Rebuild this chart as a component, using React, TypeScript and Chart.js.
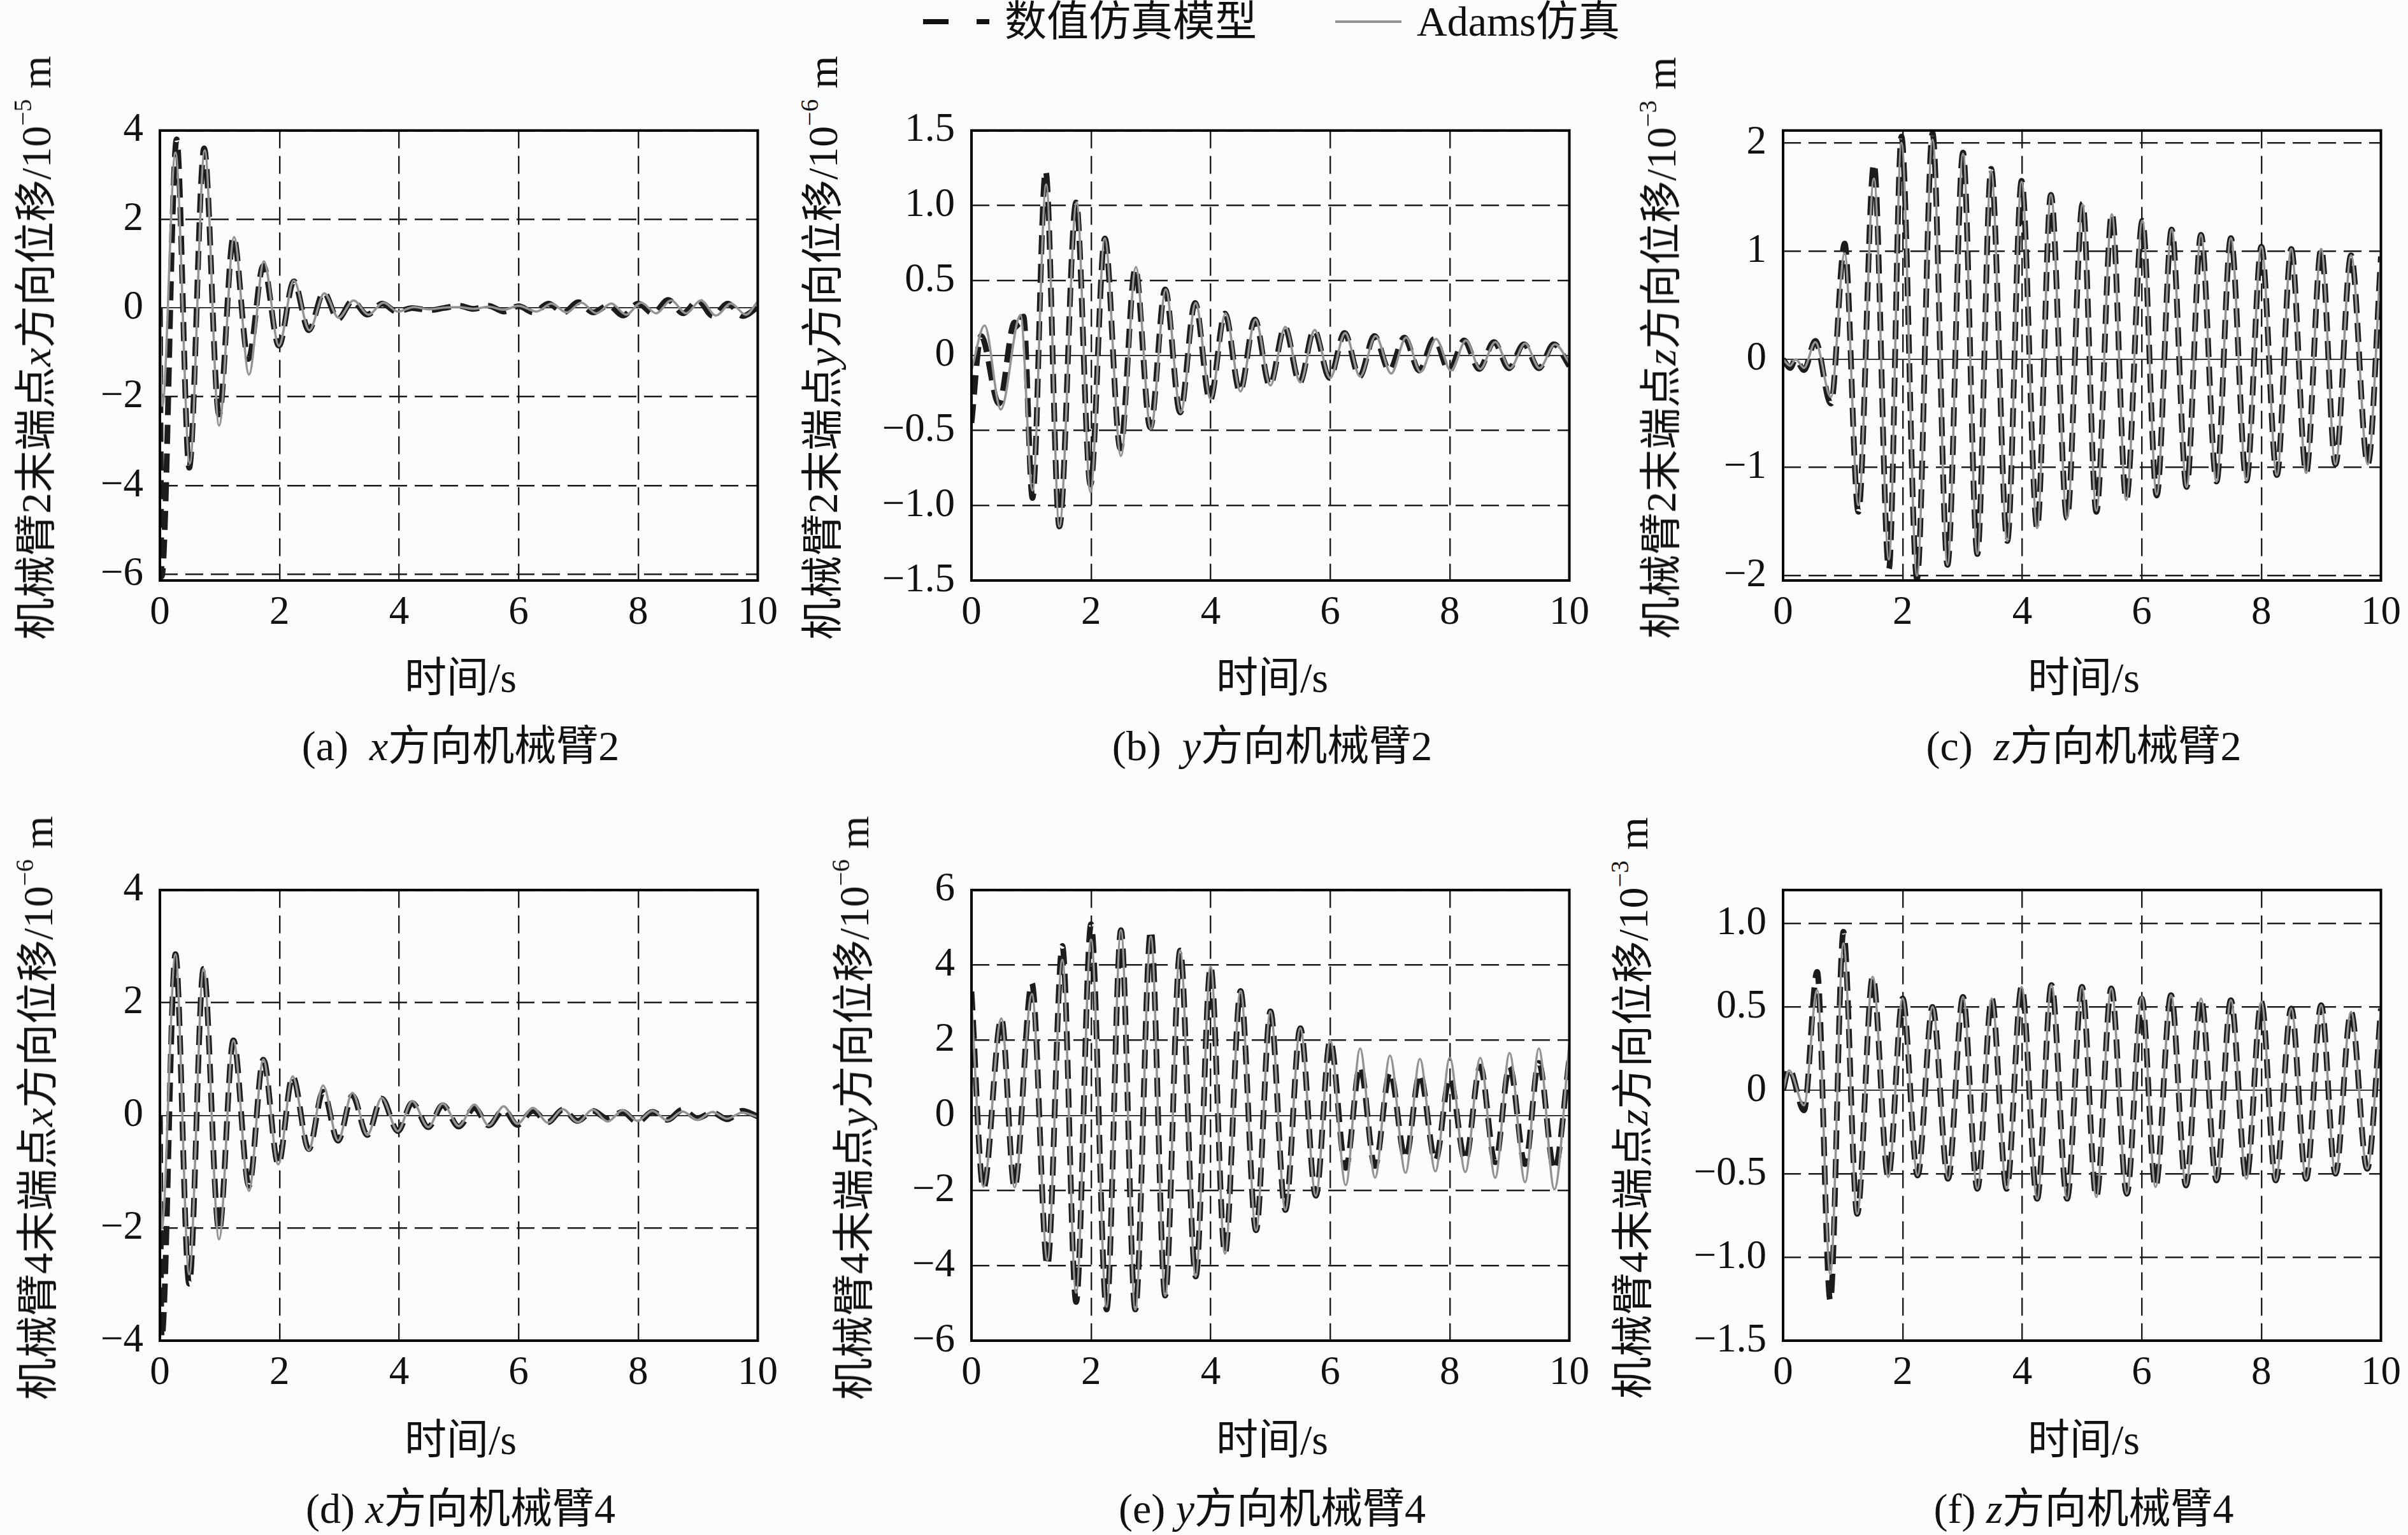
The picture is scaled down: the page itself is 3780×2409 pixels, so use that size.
import React, { useEffect, useRef } from "react";
import { Chart, registerables } from "chart.js";
Chart.register(...registerables);

// ---------- shared axis data ----------
const xTicks = [0, 2, 4, 6, 8, 10];
const xTickLabels = ["0", "2", "4", "6", "8", "10"];
const legendNum = "数值仿真模型";
const legendAdams = "Adams仿真";
const xTitle = "时间/s";

// ---------- (a) x方向 机械臂2 ----------
const tA_num = [0, 0.03, 0.28, 0.49, 0.74, 0.99, 1.23, 1.48, 1.73, 1.99, 2.24, 2.49, 2.74, 2.98, 3.22, 3.47, 3.72, 3.96, 4.22, 4.5, 4.75, 5.0, 5.25, 5.5, 5.75, 6.0, 6.25, 6.5, 6.75, 7.0, 7.25, 7.5, 7.75, 8.0, 8.25, 8.5, 8.75, 9.0, 9.25, 9.5, 9.75, 10];
const vA_num = [0, -6.05, 3.8, -3.6, 3.6, -2.4, 1.6, -1.15, 0.95, -0.85, 0.6, -0.5, 0.35, -0.25, 0.16, -0.15, 0.1, -0.08, 0.0, -0.05, 0.0, 0.05, -0.02, 0.05, -0.08, 0.04, -0.1, 0.1, -0.1, 0.13, -0.1, 0.06, -0.17, 0.1, -0.12, 0.18, -0.12, 0.17, -0.18, 0.1, -0.18, 0.02];
const tA_ad = [0, 0.04, 0.26, 0.5, 0.75, 0.99, 1.24, 1.49, 1.74, 1.99, 2.24, 2.5, 2.75, 2.99, 3.24, 3.49, 3.74, 3.98, 4.25, 4.5, 4.75, 5.0, 5.25, 5.5, 5.75, 6.0, 6.3, 6.55, 6.8, 7.05, 7.3, 7.55, 7.8, 8.05, 8.3, 8.55, 8.8, 9.05, 9.3, 9.55, 9.8, 10];
const vA_ad = [0, -2.2, 3.5, -3.5, 3.55, -2.65, 1.6, -1.5, 1.05, -0.85, 0.62, -0.5, 0.33, -0.22, 0.17, -0.15, 0.12, -0.08, 0.02, -0.03, 0.01, 0.02, -0.02, 0.03, -0.04, 0.05, -0.08, 0.1, -0.1, 0.12, -0.12, 0.1, -0.15, 0.12, -0.12, 0.17, -0.12, 0.17, -0.17, 0.1, -0.15, 0.15];
const yTicksA = [-6, -4, -2, 0, 2, 4];
const yLabelsA = ["−6", "−4", "−2", "0", "2", "4"];

// ---------- (b) y方向 机械臂2 ----------
const tB_num = [0, 0.16, 0.46, 0.72, 0.8, 0.87, 1.02, 1.24, 1.47, 1.75, 1.99, 2.23, 2.49, 2.74, 2.99, 3.24, 3.49, 3.74, 3.99, 4.24, 4.49, 4.74, 4.99, 5.24, 5.49, 5.73, 5.99, 6.24, 6.49, 6.74, 6.99, 7.24, 7.49, 7.74, 7.99, 8.24, 8.49, 8.74, 8.99, 9.24, 9.49, 9.74, 10];
const vB_num = [-0.45, 0.13, -0.32, 0.22, 0.18, 0.26, -0.95, 1.23, -1.14, 1.02, -0.86, 0.78, -0.62, 0.58, -0.48, 0.44, -0.38, 0.35, -0.3, 0.28, -0.24, 0.24, -0.2, 0.19, -0.18, 0.17, -0.15, 0.15, -0.14, 0.13, -0.1, 0.12, -0.1, 0.11, -0.1, 0.1, -0.09, 0.09, -0.085, 0.075, -0.085, 0.075, -0.07];
const tB_ad = [0, 0.22, 0.49, 0.82, 1.02, 1.25, 1.47, 1.76, 1.99, 2.23, 2.5, 2.75, 3.0, 3.25, 3.5, 3.75, 4.0, 4.25, 4.5, 4.75, 5.0, 5.25, 5.5, 5.74, 6.0, 6.25, 6.5, 6.76, 7.02, 7.27, 7.51, 7.77, 8.02, 8.27, 8.51, 8.76, 9.01, 9.26, 9.5, 9.76, 10];
const vB_ad = [-0.1, 0.2, -0.36, 0.27, -0.9, 1.14, -1.14, 1.02, -0.91, 0.78, -0.67, 0.59, -0.49, 0.44, -0.38, 0.35, -0.29, 0.28, -0.24, 0.24, -0.2, 0.19, -0.18, 0.17, -0.15, 0.15, -0.14, 0.13, -0.12, 0.12, -0.11, 0.11, -0.1, 0.1, -0.09, 0.09, -0.085, 0.08, -0.085, 0.075, -0.05];
const yTicksB = [-1.5, -1, -0.5, 0, 0.5, 1, 1.5];
const yLabelsB = ["−1.5", "−1.0", "−0.5", "0", "0.5", "1.0", "1.5"];

// ---------- (c) z方向 机械臂2 ----------
const tC = [0, 0.12, 0.21, 0.35, 0.54, 0.8, 1.03, 1.26, 1.52, 1.77, 1.98, 2.24, 2.5, 2.75, 3.01, 3.25, 3.48, 3.75, 3.99, 4.25, 4.48, 4.75, 5.01, 5.24, 5.5, 5.74, 6.01, 6.25, 6.5, 6.75, 6.99, 7.25, 7.49, 7.75, 8.0, 8.26, 8.5, 8.75, 9.0, 9.24, 9.5, 9.78, 10];
const vC_num = [0, -0.08, 0.0, -0.1, 0.17, -0.41, 1.07, -1.41, 1.81, -1.94, 2.06, -2.03, 2.09, -1.9, 1.91, -1.8, 1.76, -1.68, 1.65, -1.56, 1.52, -1.47, 1.44, -1.41, 1.35, -1.3, 1.28, -1.26, 1.2, -1.18, 1.15, -1.13, 1.12, -1.12, 1.04, -1.07, 1.02, -1.05, 1.02, -0.97, 0.96, -0.97, 0.95];
const vC_ad = [0, -0.06, 0.0, -0.08, 0.16, -0.35, 0.98, -1.35, 1.67, -1.85, 2.0, -2.0, 2.03, -1.9, 1.9, -1.8, 1.74, -1.68, 1.64, -1.56, 1.52, -1.47, 1.43, -1.4, 1.34, -1.3, 1.28, -1.25, 1.2, -1.18, 1.15, -1.13, 1.12, -1.12, 1.04, -1.07, 1.02, -1.05, 1.02, -0.97, 0.96, -0.97, 0.95];
const yTicksC = [-2, -1, 0, 1, 2];
const yLabelsC = ["−2", "−1", "0", "1", "2"];

// ---------- (d) x方向 机械臂4 ----------
const tD = [0, 0.03, 0.26, 0.49, 0.73, 0.99, 1.23, 1.49, 1.73, 1.98, 2.22, 2.49, 2.73, 2.98, 3.22, 3.47, 3.71, 3.98, 4.22, 4.49, 4.73, 5.0, 5.26, 5.5, 5.75, 5.98, 6.24, 6.49, 6.74, 6.99, 7.24, 7.49, 7.74, 7.99, 8.24, 8.49, 8.74, 8.99, 9.24, 9.49, 9.74, 10];
const vD_num = [0, -3.95, 2.86, -2.99, 2.6, -2.05, 1.33, -1.25, 0.99, -0.87, 0.69, -0.6, 0.42, -0.45, 0.35, -0.35, 0.3, -0.28, 0.22, -0.21, 0.18, -0.2, 0.13, -0.18, 0.1, -0.17, 0.08, -0.12, 0.1, -0.1, 0.08, -0.06, 0.06, -0.12, 0.06, -0.08, 0.1, -0.05, 0.05, -0.07, 0.08, -0.02];
const vD_ad = [0, -2.0, 2.86, -2.82, 2.6, -2.2, 1.33, -1.34, 0.99, -0.87, 0.69, -0.62, 0.53, -0.45, 0.4, -0.35, 0.31, -0.28, 0.25, -0.21, 0.21, -0.19, 0.19, -0.18, 0.16, -0.15, 0.13, -0.13, 0.11, -0.12, 0.1, -0.11, 0.09, -0.1, 0.08, -0.09, 0.07, -0.08, 0.06, -0.06, 0.05, -0.03];
const yTicksD = [-4, -2, 0, 2, 4];
const yLabelsD = ["−4", "−2", "0", "2", "4"];

// ---------- (e) y方向 机械臂4 ----------
const tE = [0, 0.2, 0.5, 0.72, 1.01, 1.27, 1.52, 1.75, 2.0, 2.26, 2.5, 2.74, 3.0, 3.24, 3.49, 3.75, 4.0, 4.24, 4.5, 4.76, 5.0, 5.25, 5.5, 5.76, 6.0, 6.26, 6.5, 6.75, 7.0, 7.26, 7.5, 7.76, 8.0, 8.26, 8.51, 8.76, 9.0, 9.26, 9.49, 9.75, 10];
const vE_num = [3.3, -1.95, 2.58, -1.92, 3.52, -4.0, 4.51, -4.97, 5.09, -5.17, 4.93, -5.17, 4.93, -4.8, 4.39, -4.29, 3.96, -3.68, 3.31, -3.06, 2.77, -2.52, 2.32, -2.14, 1.99, -1.4, 1.3, -1.35, 1.15, -1.15, 1.1, -1.2, 1.0, -1.2, 1.3, -1.25, 1.3, -1.3, 1.4, -1.45, 1.5];
const vE_ad = [3.0, -1.9, 2.58, -1.92, 3.23, -3.85, 4.14, -4.72, 4.68, -5.1, 4.93, -5.17, 4.76, -4.8, 4.39, -4.29, 3.96, -3.68, 3.31, -3.06, 2.77, -2.52, 2.32, -2.14, 1.99, -1.86, 1.78, -1.66, 1.59, -1.53, 1.5, -1.49, 1.53, -1.51, 1.53, -1.66, 1.66, -1.78, 1.78, -1.97, 1.9];
const yTicksE = [-6, -4, -2, 0, 2, 4, 6];
const yLabelsE = ["−6", "−4", "−2", "0", "2", "4", "6"];

// ---------- (f) z方向 机械臂4 ----------
const tF = [0, 0.1, 0.35, 0.57, 0.79, 1.01, 1.24, 1.5, 1.76, 2.0, 2.25, 2.5, 2.76, 3.01, 3.25, 3.49, 3.74, 3.99, 4.25, 4.49, 4.75, 5.0, 5.24, 5.49, 5.75, 6.0, 6.23, 6.49, 6.74, 6.99, 7.25, 7.49, 7.75, 8.0, 8.24, 8.5, 8.75, 9.0, 9.24, 9.5, 9.77, 10];
const vF_num = [0, 0.13, -0.12, 0.71, -1.26, 0.95, -0.74, 0.68, -0.52, 0.55, -0.51, 0.5, -0.53, 0.56, -0.59, 0.55, -0.59, 0.62, -0.65, 0.63, -0.65, 0.62, -0.64, 0.61, -0.62, 0.55, -0.58, 0.57, -0.57, 0.55, -0.54, 0.54, -0.53, 0.53, -0.54, 0.49, -0.53, 0.51, -0.5, 0.47, -0.47, 0.49];
const vF_ad = [0, 0.12, -0.09, 0.6, -1.1, 0.88, -0.74, 0.68, -0.52, 0.55, -0.51, 0.5, -0.53, 0.56, -0.59, 0.55, -0.59, 0.62, -0.65, 0.63, -0.65, 0.62, -0.64, 0.61, -0.62, 0.56, -0.58, 0.57, -0.57, 0.55, -0.54, 0.54, -0.53, 0.53, -0.54, 0.49, -0.53, 0.51, -0.5, 0.47, -0.47, 0.49];
const yTicksF = [-1.5, -1, -0.5, 0, 0.5, 1];
const yLabelsF = ["−1.5", "−1.0", "−0.5", "0", "0.5", "1.0"];

// ---------- layout / style ----------
const SERIF = '"Liberation Serif", "Times New Roman", "Noto Sans CJK SC", serif';
const DARK = "#1c1c1c";
const GRAY = "#939393";
const Y_AXIS_W = 190;
const X_AXIS_H = 100;
const PAD_TOP = 40;
const PAD_RIGHT = 40;
const PLOT_W = 944;

type PanelCfg = {
  tNum: number[]; vNum: number[]; tAd: number[]; vAd: number[];
  yTicks: number[]; yLabels: string[]; yMin: number; yMax: number;
  left: number; top: number; h: number;
  titleX: number; arm: string; dir: string; exp: string;
  tag: string; capSep: string;
};

const ROW1_T = 181, ROW1_H = 730, ROW2_T = 1373, ROW2_H = 731;

const panels: PanelCfg[] = [
  { tNum: tA_num, vNum: vA_num, tAd: tA_ad, vAd: vA_ad, yTicks: yTicksA, yLabels: yLabelsA, yMin: -6.14, yMax: 4,
    left: 251, top: ROW1_T, h: ROW1_H, titleX: 57, arm: "2", dir: "x", exp: "−5", tag: "(a)", capSep: "  " },
  { tNum: tB_num, vNum: vB_num, tAd: tB_ad, vAd: vB_ad, yTicks: yTicksB, yLabels: yLabelsB, yMin: -1.5, yMax: 1.5,
    left: 1525, top: ROW1_T, h: ROW1_H, titleX: 1292, arm: "2", dir: "y", exp: "−6", tag: "(b)", capSep: "  " },
  { tNum: tC, vNum: vC_num, tAd: tC, vAd: vC_ad, yTicks: yTicksC, yLabels: yLabelsC, yMin: -2.045, yMax: 2.115,
    left: 2799, top: ROW1_T, h: ROW1_H, titleX: 2608, arm: "2", dir: "z", exp: "−3", tag: "(c)", capSep: "  " },
  { tNum: tD, vNum: vD_num, tAd: tD, vAd: vD_ad, yTicks: yTicksD, yLabels: yLabelsD, yMin: -4, yMax: 4,
    left: 251, top: ROW2_T, h: ROW2_H, titleX: 60, arm: "4", dir: "x", exp: "−6", tag: "(d)", capSep: " " },
  { tNum: tE, vNum: vE_num, tAd: tE, vAd: vE_ad, yTicks: yTicksE, yLabels: yLabelsE, yMin: -6, yMax: 6,
    left: 1525, top: ROW2_T, h: ROW2_H, titleX: 1341, arm: "4", dir: "y", exp: "−6", tag: "(e)", capSep: " " },
  { tNum: tF, vNum: vF_num, tAd: tF, vAd: vF_ad, yTicks: yTicksF, yLabels: yLabelsF, yMin: -1.5, yMax: 1.2,
    left: 2799, top: ROW2_T, h: ROW2_H, titleX: 2564, arm: "4", dir: "z", exp: "−3", tag: "(f)", capSep: " " },
];

const framePlugin = {
  id: "frame",
  afterDatasetsDraw(chart: any) {
    const { ctx, chartArea: a } = chart;
    ctx.save();
    ctx.strokeStyle = "#000";
    ctx.lineWidth = 4;
    ctx.strokeRect(a.left, a.top, a.right - a.left, a.bottom - a.top);
    ctx.restore();
  },
};

function PanelChart({ cfg }: { cfg: PanelCfg }) {
  const ref = useRef<HTMLCanvasElement | null>(null);
  const cw = Y_AXIS_W + PLOT_W + PAD_RIGHT;
  const ch = PAD_TOP + cfg.h + X_AXIS_H;
  useEffect(() => {
    if (!ref.current) return;
    const tickFont = { family: SERIF, size: 63 };
    const chart = new Chart(ref.current, {
      type: "line",
      data: {
        datasets: [
          {
            label: legendNum,
            data: cfg.tNum.map((t, i) => ({ x: t, y: cfg.vNum[i] })),
            borderColor: DARK,
            borderWidth: 9,
            borderDash: [30, 15],
            pointRadius: 0,
            cubicInterpolationMode: "monotone",
            fill: false,
            order: 1,
          },
          {
            label: legendAdams,
            data: cfg.tAd.map((t, i) => ({ x: t, y: cfg.vAd[i] })),
            borderColor: GRAY,
            borderWidth: 3.6,
            pointRadius: 0,
            cubicInterpolationMode: "monotone",
            fill: false,
            order: 0,
          },
        ],
      },
      options: {
        animation: false,
        responsive: false,
        devicePixelRatio: 1,
        layout: { padding: { top: PAD_TOP, right: PAD_RIGHT, left: 0, bottom: 0 } },
        plugins: { legend: { display: false }, tooltip: { enabled: false } },
        scales: {
          x: {
            type: "linear",
            min: 0,
            max: 10,
            afterBuildTicks: (s: any) => { s.ticks = xTicks.map((v) => ({ value: v })); },
            afterFit: (s: any) => { s.height = X_AXIS_H; },
            ticks: {
              autoSkip: false,
              maxRotation: 0,
              padding: 14,
              color: "#111",
              font: tickFont,
              callback: (_v: any, i: number) => xTickLabels[i],
            },
            grid: { color: "#1a1a1a", lineWidth: 2.4, drawTicks: false },
            border: { display: false, dash: [28, 12] },
          },
          y: {
            type: "linear",
            min: cfg.yMin,
            max: cfg.yMax,
            afterBuildTicks: (s: any) => { s.ticks = cfg.yTicks.map((v) => ({ value: v })); },
            afterFit: (s: any) => { s.width = Y_AXIS_W; },
            ticks: {
              autoSkip: false,
              padding: 26,
              color: "#111",
              font: tickFont,
              callback: (_v: any, i: number) => cfg.yLabels[i],
            },
            grid: {
              color: "#1a1a1a",
              lineWidth: (c: any) => (c.tick && c.tick.value === 0 ? 1.8 : 2.4),
              drawTicks: false,
            },
            border: {
              display: false,
              dash: (c: any) => (c.tick && c.tick.value === 0 ? [] : [28, 12]),
            },
          },
        },
      } as any,
      plugins: [framePlugin],
    });
    return () => chart.destroy();
  }, [cfg]);
  return (
    <canvas
      ref={ref}
      width={cw}
      height={ch}
      style={{
        position: "absolute",
        left: cfg.left - Y_AXIS_W,
        top: cfg.top - PAD_TOP,
        width: cw,
        height: ch,
      }}
    />
  );
}

const textBase: React.CSSProperties = {
  position: "absolute",
  fontFamily: SERIF,
  fontSize: 66,
  color: "#111",
  whiteSpace: "pre",
  lineHeight: 1,
};

function PanelTexts({ cfg, xTitleY, capY }: { cfg: PanelCfg; xTitleY: number; capY: number }) {
  const cx = cfg.left + PLOT_W / 2;
  const cy = cfg.top + cfg.h / 2;
  return (
    <>
      <div
        style={{
          ...textBase,
          left: cfg.titleX,
          top: cy,
          transform: "translate(-50%, -50%) rotate(-90deg)",
        }}
      >
        {"机械臂" + cfg.arm + "末端点"}
        <i>{cfg.dir}</i>
        {"方向位移/10"}
        <span style={{ fontSize: "0.6em", position: "relative", top: "-0.75em" }}>{cfg.exp}</span>
        {" m"}
      </div>
      <div style={{ ...textBase, left: cx, top: xTitleY, transform: "translate(-50%, -50%)" }}>{xTitle}</div>
      <div style={{ ...textBase, left: cx, top: capY, transform: "translate(-50%, -50%)" }}>
        {cfg.tag + cfg.capSep}
        <i>{cfg.dir}</i>
        {"方向机械臂" + cfg.arm}
      </div>
    </>
  );
}

export default function App() {
  return (
    <div
      style={{
        position: "absolute",
        left: 0,
        top: 0,
        width: 3780,
        height: 2409,
        background: "#fcfcfc",
        overflow: "hidden",
      }}
    >
      {/* legend */}
      <div style={{ position: "absolute", left: 1449, top: 30, width: 40, height: 8, background: "#111" }} />
      <div style={{ position: "absolute", left: 1533, top: 30, width: 20, height: 8, background: "#111" }} />
      <div style={{ ...textBase, left: 1577, top: 34, transform: "translateY(-50%)" }}>{legendNum}</div>
      <div style={{ position: "absolute", left: 2096, top: 32, width: 104, height: 4, background: GRAY }} />
      <div style={{ ...textBase, left: 2224, top: 34, transform: "translateY(-50%)" }}>{legendAdams}</div>

      {panels.map((p, i) => (
        <React.Fragment key={i}>
          <PanelChart cfg={p} />
          <PanelTexts cfg={p} xTitleY={i < 3 ? 1064 : 2260} capY={i < 3 ? 1171 : 2368} />
        </React.Fragment>
      ))}
    </div>
  );
}
